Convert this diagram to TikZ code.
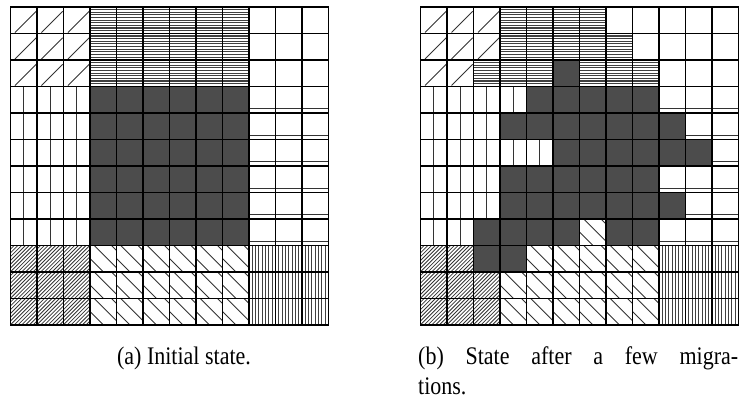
\documentclass[tikz,border=0pt]{standalone}
\usepackage{fontspec}
\setmainfont{Liberation Serif}
\definecolor{cellfill}{gray}{0.3}
\def\cs{26.5}
\tikzset{
  gridline/.style={line width=1.6pt, black, line cap=rect},
  hatchline/.style={line width=0.9pt, black!80},
  denseline/.style={line width=1.1pt, black!75},
  crossline/.style={line width=0.8pt, black!80},
  darkcell/.style={fill=cellfill},
  caption/.style={font=\fontsize{22}{29}\selectfont, inner sep=0pt}
}
% tall caption text
\newcommand\captext[1]{\scalebox{1}[1.15]{#1}}
% cell fillings, drawn in a local frame with the cell spanning (0,0)--(\cs,\cs)
\def\cellpaintW{}
\def\cellpaintD{\fill[darkcell] (0,0) rectangle (\cs,\cs);}
\def\cellpaintG{\draw[hatchline] ({0.17*\cs},{0.97*\cs}) -- ({0.97*\cs},{0.17*\cs});}
\def\cellpaintS{\foreach \k in {1,...,9}{\draw[denseline] (0,{\k*\cs/10}) -- (\cs,{\k*\cs/10});}}
\def\cellpaintV{\draw[hatchline] ({0.5*\cs},0) -- ({0.5*\cs},\cs);}
\def\cellpaintB{\draw[hatchline] (0,{0.85*\cs}) -- (\cs,{0.85*\cs});}
\def\cellpaintL{\foreach \k in {1,...,7}{\draw[denseline] ({\k*\cs/8},0) -- ({\k*\cs/8},\cs);}}
\def\cellpaintH{\begin{scope}\clip (0,0) rectangle (\cs,\cs);
  \foreach \k in {-7,...,7}{\draw[crossline] ({\k*\cs/7},\cs) -- ++(\cs,-\cs);}\end{scope}}
\def\cellpaintN{\begin{scope}\clip (0,0) rectangle (\cs,\cs);
  \foreach \k in {-0.5,0.15,0.8}{\draw[hatchline] ({\k*\cs},0) -- ++(\cs,\cs);}\end{scope}}
% 12x12 board: #1,#2 = top-left corner, #3 = rows of cell codes
\newcommand\drawboard[3]{%
  \foreach \row [count=\rr from 0] in {#3}{%
    \foreach \t [count=\cc from 0] in \row{%
      \begin{scope}[shift={({#1+\cc*\cs},{#2+\rr*\cs})}]
        \csname cellpaint\t\endcsname
      \end{scope}}}
  \foreach \i in {0,...,12}{%
    \draw[gridline] ({#1+\i*\cs},#2) -- ({#1+\i*\cs},{#2+12*\cs});
    \draw[gridline] (#1,{#2+\i*\cs}) -- ({#1+12*\cs},{#2+\i*\cs});}
}
\begin{document}
\begin{tikzpicture}[x=1pt,y=-1pt]
\useasboundingbox (0,0) rectangle (741,407);
% initial state
\drawboard{10.5}{6.8}{
  {G,G,G,S,S,S,S,S,S,W,W,W},
  {G,G,G,S,S,S,S,S,S,W,W,W},
  {G,G,G,S,S,S,S,S,S,W,W,W},
  {V,V,V,D,D,D,D,D,D,B,B,B},
  {V,V,V,D,D,D,D,D,D,B,B,B},
  {V,V,V,D,D,D,D,D,D,B,B,B},
  {V,V,V,D,D,D,D,D,D,B,B,B},
  {V,V,V,D,D,D,D,D,D,B,B,B},
  {V,V,V,D,D,D,D,D,D,B,B,B},
  {H,H,H,N,N,N,N,N,N,L,L,L},
  {H,H,H,N,N,N,N,N,N,L,L,L},
  {H,H,H,N,N,N,N,N,N,L,L,L}}
% state after migrations
\drawboard{420.5}{6.8}{
  {G,G,G,S,S,S,S,W,W,W,W,W},
  {G,G,G,S,S,S,S,S,W,W,W,W},
  {G,G,S,S,S,D,S,S,S,W,W,W},
  {V,V,V,V,D,D,D,D,D,B,B,B},
  {V,V,V,D,D,D,D,D,D,D,B,B},
  {V,V,V,V,V,D,D,D,D,D,D,B},
  {V,V,V,D,D,D,D,D,D,B,B,B},
  {V,V,V,D,D,D,D,D,D,D,B,B},
  {V,V,D,D,D,D,N,D,D,B,B,B},
  {H,H,D,D,N,N,N,N,N,L,L,L},
  {H,H,H,N,N,N,N,N,N,L,L,L},
  {H,H,H,N,N,N,N,N,N,L,L,L}}
\node[caption, anchor=base] (capa) at (184,364) {\captext{(a) Initial state.}};
\node[caption, anchor=base west] (capb) at (418,364)
  {\captext{\hbox to 320pt{(b)\hfill State\hfill after\hfill a\hfill few\hfill migra-}}};
\node[caption, anchor=base west] (capc) at (418,394) {\captext{tions.}};
\end{tikzpicture}
\end{document}
